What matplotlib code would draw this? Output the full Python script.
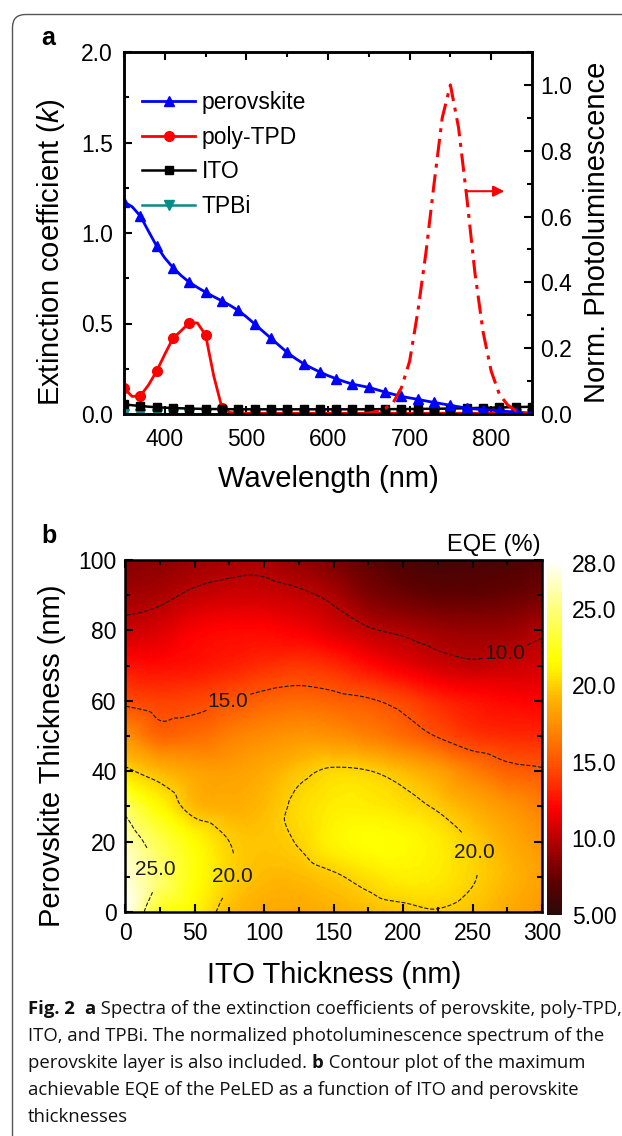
import numpy as np
import matplotlib
matplotlib.use('Agg')
import matplotlib.pyplot as plt
import matplotlib.tri as mtri
from matplotlib.ticker import MultipleLocator, FormatStrFormatter
from matplotlib.colors import LinearSegmentedColormap, Normalize
from matplotlib.patches import FancyBboxPatch

plt.rcParams['font.family'] = ['Liberation Sans', 'DejaVu Sans']
plt.rcParams['mathtext.fontset'] = 'custom'
plt.rcParams['mathtext.it'] = 'Liberation Sans:italic'
plt.rcParams['mathtext.rm'] = 'Liberation Sans'

# ---- panel a: extinction coefficients (k) and PL ----
wl_10 = np.arange(350, 851, 10)
k_perovskite = [1.172, 1.145, 1.094, 1.010, 0.928, 0.862, 0.809, 0.765, 0.728, 0.699,
                0.673, 0.648, 0.625, 0.600, 0.572, 0.537, 0.498, 0.458, 0.419, 0.379,
                0.340, 0.307, 0.278, 0.254, 0.232, 0.212, 0.195, 0.179, 0.165, 0.156,
                0.147, 0.134, 0.121, 0.109, 0.097, 0.089, 0.081, 0.072, 0.064, 0.056,
                0.048, 0.040, 0.033, 0.028, 0.024, 0.021, 0.018, 0.014, 0.011, 0.007,
                0.004]
k_polytpd = [0.142, 0.097, 0.100, 0.160, 0.237, 0.330, 0.418, 0.460, 0.504, 0.503,
             0.436, 0.210, 0.035, 0.008, 0.005, 0.004, 0.004, 0.004, 0.004, 0.004,
             0.004, 0.004, 0.004, 0.004, 0.004, 0.004, 0.004, 0.004, 0.004, 0.004,
             0.004, 0.004, 0.004, 0.004, 0.004, 0.004, 0.004, 0.004, 0.004, 0.004,
             0.004, 0.004, 0.004, 0.004, 0.004, 0.004, 0.004, 0.004, 0.004, 0.004,
             0.004]
wl_20 = np.arange(350, 851, 20)
k_ito = [0.053, 0.044, 0.037, 0.033, 0.030, 0.028, 0.027, 0.026, 0.026, 0.026,
         0.026, 0.026, 0.026, 0.026, 0.026, 0.026, 0.027, 0.027, 0.028, 0.029,
         0.030, 0.032, 0.034, 0.036, 0.038, 0.040]
k_tpbi = [0.002, 0.002, 0.002, 0.002, 0.002, 0.002, 0.002, 0.002, 0.002, 0.002,
          0.002, 0.002, 0.002, 0.002, 0.002, 0.002, 0.002, 0.002, 0.002, 0.002,
          0.002, 0.002, 0.002, 0.002, 0.002, 0.002]
wl_pl = np.arange(640, 851, 10)
pl_norm = [0.0, 0.003, 0.008, 0.017, 0.035, 0.08, 0.16, 0.31, 0.49, 0.70, 0.90,
           1.0, 0.87, 0.66, 0.43, 0.25, 0.13, 0.06, 0.028, 0.01, 0.003, 0.0]

# ---- panel b: EQE (%) map, rows = perovskite thickness, cols = ITO thickness ----
ito_t = np.arange(0, 301, 25)
pero_t = np.arange(0, 101, 10)
eqe = np.array([
    [28.0, 22.8, 21.2, 19.4, 18.7, 18.6, 18.9, 19.3, 19.6, 19.9, 19.5, 18.7, 17.9],
    [27.3, 24.7, 22.0, 20.1, 19.3, 19.3, 19.8, 20.5, 21.0, 20.8, 20.1, 19.2, 18.3],
    [26.4, 23.8, 21.6, 20.0, 19.6, 20.1, 21.2, 21.8, 21.6, 20.9, 19.9, 18.8, 17.8],
    [24.3, 21.5, 19.3, 18.9, 19.3, 20.3, 20.9, 20.9, 20.5, 19.8, 18.8, 17.8, 16.8],
    [20.4, 19.2, 18.4, 18.2, 18.7, 19.6, 20.2, 20.05, 19.3, 18.3, 16.8, 15.6, 15.2],
    [17.6, 15.8, 16.0, 16.8, 17.4, 17.8, 17.6, 16.9, 16.0, 14.9, 13.8, 13.4, 13.3],
    [14.6, 14.2, 14.4, 15.0, 15.6, 15.9, 15.6, 15.2, 14.4, 13.3, 12.6, 12.2, 12.0],
    [12.6, 12.4, 12.6, 13.0, 13.5, 13.8, 13.4, 12.4, 11.5, 10.7, 10.3, 10.5, 10.8],
    [10.6, 11.0, 11.9, 12.2, 12.2, 11.8, 11.0, 10.2, 9.7, 9.2, 9.0, 9.1, 9.7],
    [9.3, 9.6, 10.3, 10.6, 10.6, 10.3, 9.6, 8.3, 7.7, 7.3, 7.3, 7.5, 7.9],
    [8.4, 8.7, 9.1, 9.4, 9.5, 8.9, 8.1, 7.3, 6.6, 6.3, 6.4, 6.6, 7.0],
])
contour_levels = [10, 15, 20, 25]
label_spots = [(274, 72), (74, 60), (21, 12), (78, 10), (251, 17)]
cbar_ticks = [28, 25, 20, 15, 10, 5]
cbar_labels = ['28.0', '25.0', '20.0', '15.0', '10.0', '5.00']

W, H = 622, 1136
fig = plt.figure(figsize=(W / 100, H / 100), dpi=100)

def px_axes(l, t, r, b):
    return fig.add_axes([l / W, 1 - b / H, (r - l) / W, (b - t) / H])

# background canvas in pixel units
bg = fig.add_axes([0, 0, 1, 1], zorder=-5)
bg.set_xlim(0, W)
bg.set_ylim(H, 0)
bg.axis('off')
bg.add_patch(FancyBboxPatch((12.5, 14.5), 700, 1200, boxstyle='round,pad=0,rounding_size=13',
                            fill=False, ec='#555555', lw=1.0))

TICK = 16.5
LAB = 21

def style_axes(ax):
    for s in ax.spines.values():
        s.set_linewidth(1.8)
    ax.tick_params(which='both', direction='in', width=1.5, labelsize=TICK)
    ax.tick_params(which='major', length=6)
    ax.tick_params(which='minor', length=3.5)

# ---------------- panel a ----------------
ax = px_axes(124, 52, 532, 414)
style_axes(ax)
ax.plot(wl_10, k_perovskite, '-', color='#0000ff', lw=2, marker='^', ms=7.5,
        markevery=2, label='perovskite', zorder=4)
ax.plot(wl_10, k_polytpd, '-', color='#ff0000', lw=2, marker='o', ms=7,
        markevery=2, label='poly-TPD', zorder=3)
ax.plot(wl_20, k_ito, '-', color='black', lw=1.8, marker='s', ms=5.5,
        label='ITO', zorder=3)
ax.plot(wl_20, k_tpbi, '-', color='#0b8a8a', lw=1.8, marker='v', ms=6.5,
        label='TPBi', zorder=2)
ax.set_xlim(350, 850)
ax.set_ylim(0, 2.0)
ax.xaxis.set_major_locator(MultipleLocator(100))
ax.xaxis.set_minor_locator(MultipleLocator(50))
ax.yaxis.set_major_locator(MultipleLocator(0.5))
ax.yaxis.set_minor_locator(MultipleLocator(0.25))
ax.yaxis.set_major_formatter(FormatStrFormatter('%.1f'))
ax.tick_params(which='both', top=True, right=False)
ax.tick_params(axis='x', pad=10)
ax.tick_params(axis='y', pad=8)

leg = ax.legend(loc='upper left', bbox_to_anchor=(0.045, 0.892), frameon=False,
                fontsize=TICK, borderpad=0, borderaxespad=0, handlelength=2.3,
                handletextpad=0.3, labelspacing=0.51)

ax2 = ax.twinx()
style_axes(ax2)
ax2.plot(wl_pl, pl_norm, color='#ff0000', lw=2.2, linestyle=(0, (6.0, 2.2, 1.3, 2.2)))
ax2.set_ylim(0, 1.1)
ax2.yaxis.set_major_locator(MultipleLocator(0.2))
ax2.yaxis.set_minor_locator(MultipleLocator(0.1))
ax2.yaxis.set_major_formatter(FormatStrFormatter('%.1f'))
ax2.tick_params(axis='y', pad=6)
ax2.annotate('', xy=(816, 0.677), xytext=(770, 0.677),
             arrowprops=dict(arrowstyle='-|>', color='#ff0000', lw=1.5, mutation_scale=16,
                             shrinkA=0, shrinkB=0))

# ---------------- panel b ----------------
cmap = LinearSegmentedColormap.from_list('eqe', [
    (0.000, '#2b0a0a'), (0.087, '#5a0000'), (0.174, '#990000'), (0.261, '#dd0000'),
    (0.304, '#ff0000'), (0.391, '#ff3c00'), (0.522, '#ff8400'), (0.609, '#ffb000'),
    (0.652, '#ffd000'), (0.696, '#fff000'), (0.730, '#ffff00'), (0.870, '#ffff78'),
    (1.000, '#fffff5')], N=128)
norm = Normalize(vmin=5, vmax=28)

axb = px_axes(125, 560, 542, 912)
style_axes(axb)
gx, gy = np.meshgrid(ito_t, pero_t)
tri = mtri.Triangulation(gx.ravel(), gy.ravel())
interp = mtri.CubicTriInterpolator(tri, eqe.ravel(), kind='geom')
refiner = mtri.UniformTriRefiner(tri)
tri_f, eqe_f = refiner.refine_field(eqe.ravel(), triinterpolator=interp, subdiv=4)
mesh = axb.tripcolor(tri_f, eqe_f, shading='gouraud', cmap=cmap, norm=norm, zorder=1)
cs = axb.tricontour(tri_f, eqe_f, levels=contour_levels, colors='#1a1a1a',
                    linewidths=0.8, linestyles='--', zorder=2)
lbls = axb.clabel(cs, manual=label_spots, inline=True, fmt='%.1f', fontsize=15,
                  inline_spacing=3)
for t in lbls:
    t.set_rotation(0)
axb.set_xlim(0, 300)
axb.set_ylim(0, 100)
axb.xaxis.set_major_locator(MultipleLocator(50))
axb.xaxis.set_minor_locator(MultipleLocator(25))
axb.yaxis.set_major_locator(MultipleLocator(20))
axb.yaxis.set_minor_locator(MultipleLocator(10))
axb.tick_params(which='both', top=True, right=True)
axb.tick_params(axis='x', pad=7)
axb.tick_params(axis='y', pad=6)
for s in axb.spines.values():
    s.set_zorder(5)

cax = px_axes(547, 563, 562, 915)
cb = fig.colorbar(mesh, cax=cax, ticks=cbar_ticks)
cb.ax.set_yticklabels(cbar_labels)
cb.outline.set_visible(False)
cax.tick_params(length=0, labelsize=TICK, pad=7)

# ---------------- texts ----------------
bg.text(59.5, 252.5, 'Extinction coefficient ($\\mathit{k}$)', fontsize=LAB, rotation=90,
        rotation_mode='anchor', ha='center', va='baseline')
bg.text(605, 232.5, 'Norm. Photoluminescence', fontsize=LAB, rotation=90,
        rotation_mode='anchor', ha='center', va='baseline')
bg.text(328, 487, 'Wavelength (nm)', fontsize=LAB, ha='center', va='baseline')
bg.text(60, 756, 'Perovskite Thickness (nm)', fontsize=LAB, rotation=90,
        rotation_mode='anchor', ha='center', va='baseline')
bg.text(334, 983, 'ITO Thickness (nm)', fontsize=LAB, ha='center', va='baseline')
bg.text(541, 551, 'EQE (%)', fontsize=17, ha='right', va='baseline')
bg.text(41, 45, 'a', fontsize=18, fontweight='bold', va='baseline')
bg.text(41, 543, 'b', fontsize=18, fontweight='bold', va='baseline')

# caption with bold pieces
CAP = 13.3
cap_lines = [
    [('Fig. 2', True), ('  ', False), ('a', True),
     (' Spectra of the extinction coefficients of perovskite, poly-TPD,', False)],
    [('ITO, and TPBi. The normalized photoluminescence spectrum of the', False)],
    [('perovskite layer is also included. ', False), ('b', True),
     (' Contour plot of the maximum', False)],
    [('achievable EQE of the PeLED as a function of ITO and perovskite', False)],
    [('thicknesses', False)],
]
renderer = fig.canvas.get_renderer()
y0 = 1014
for i, parts in enumerate(cap_lines):
    x = 28
    for txt, bold in parts:
        t = bg.text(x, y0 + i * 27, txt, fontsize=CAP, family='Open Sans',
                    fontweight='bold' if bold else 'normal', va='baseline', color='#111111')
        x += t.get_window_extent(renderer=renderer).width

fig.savefig('out.png', dpi=100)
